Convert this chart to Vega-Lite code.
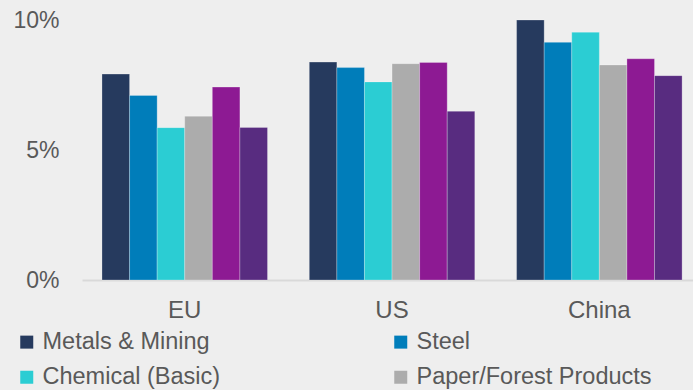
{
  "$schema": "https://vega.github.io/schema/vega-lite/v6.json",
  "autosize": "none",
  "width": 611,
  "height": 260,
  "padding": {"left": 82, "top": 20, "right": 0, "bottom": 110},
  "background": "#eeeeee",
  "config": {"view": {"stroke": null}},
  "data": {"values": [
    {"region": "EU", "sector": "Metals & Mining", "v": 0.0792},
    {"region": "EU", "sector": "Steel", "v": 0.071},
    {"region": "EU", "sector": "Chemical (Basic)", "v": 0.0586},
    {"region": "EU", "sector": "Paper/Forest Products", "v": 0.063},
    {"region": "EU", "sector": "Aluminum", "v": 0.0742},
    {"region": "EU", "sector": "Building Materials", "v": 0.0587},
    {"region": "US", "sector": "Metals & Mining", "v": 0.0838},
    {"region": "US", "sector": "Steel", "v": 0.0817},
    {"region": "US", "sector": "Chemical (Basic)", "v": 0.0762},
    {"region": "US", "sector": "Paper/Forest Products", "v": 0.0832},
    {"region": "US", "sector": "Aluminum", "v": 0.0837},
    {"region": "US", "sector": "Building Materials", "v": 0.0649},
    {"region": "China", "sector": "Metals & Mining", "v": 0.1},
    {"region": "China", "sector": "Steel", "v": 0.0914},
    {"region": "China", "sector": "Chemical (Basic)", "v": 0.0953},
    {"region": "China", "sector": "Paper/Forest Products", "v": 0.0827},
    {"region": "China", "sector": "Aluminum", "v": 0.0851},
    {"region": "China", "sector": "Building Materials", "v": 0.0786}
  ]},
  "mark": {"type": "bar", "stroke": "#ffffff", "strokeOpacity": 0.25, "strokeWidth": 1},
  "encoding": {
    "x": {
      "field": "region", "type": "nominal", "sort": ["EU", "US", "China"],
      "scale": {"paddingInner": 0.2016, "paddingOuter": 0.0745, "align": 0.647},
      "axis": {"title": null, "labelAngle": 0, "ticks": false, "domainColor": "#d9d9d9", "domainWidth": 2,
               "labelFont": "Liberation Sans", "labelFontSize": 24, "labelColor": "#595959", "labelPadding": 18}
    },
    "xOffset": {"field": "sector", "type": "nominal",
      "sort": ["Metals & Mining", "Steel", "Chemical (Basic)", "Paper/Forest Products", "Aluminum", "Building Materials"],
      "scale": {"paddingInner": 0, "paddingOuter": 0}},
    "y": {
      "field": "v", "type": "quantitative",
      "scale": {"domain": [0, 0.1], "nice": false},
      "axis": {"title": null, "values": [0, 0.05, 0.1], "format": ".0%", "ticks": false, "domain": false, "grid": false,
               "labelFont": "Liberation Sans", "labelFontSize": 23, "labelColor": "#595959", "labelPadding": 23}
    },
    "color": {
      "field": "sector", "type": "nominal",
      "scale": {
        "domain": ["Metals & Mining", "Steel", "Chemical (Basic)", "Paper/Forest Products", "Aluminum", "Building Materials"],
        "range": ["#263a5e", "#007dba", "#2bcdd3", "#acacac", "#8d1a93", "#582c80"]
      },
      "legend": {
        "title": null, "orient": "none", "legendX": -67, "legendY": 310, "direction": "horizontal", "columns": 2,
        "values": ["Metals & Mining", "Steel", "Chemical (Basic)", "Paper/Forest Products"],
        "symbolType": "square", "symbolSize": 169, "symbolStrokeWidth": 0, "labelOffset": 4,
        "labelFont": "Liberation Sans", "labelFontSize": 23.5, "labelColor": "#595959",
        "rowPadding": 10.5, "columnPadding": 168, "labelLimit": 400
      }
    }
  }
}
